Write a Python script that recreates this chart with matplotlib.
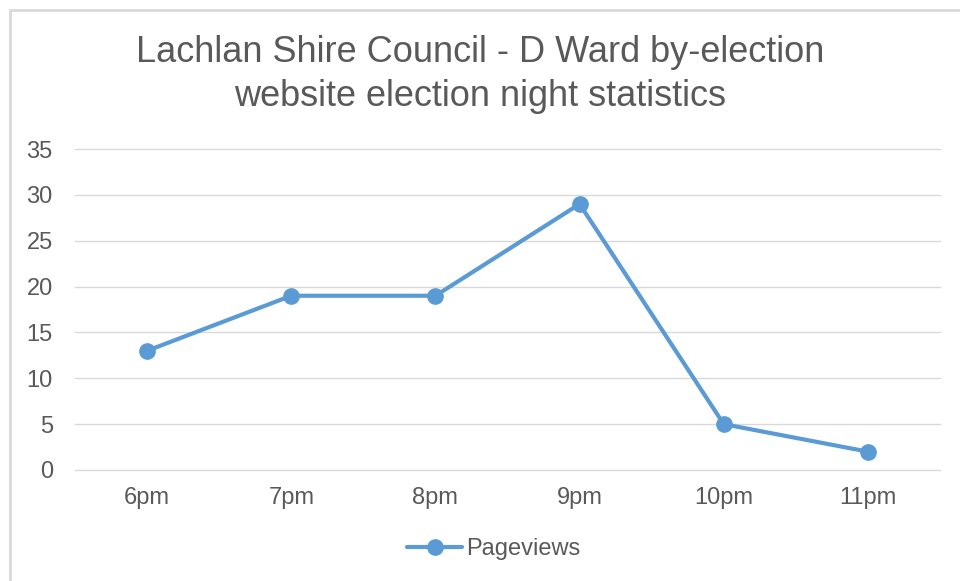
import numpy as np
import matplotlib
matplotlib.use('Agg')
import matplotlib.pyplot as plt
from matplotlib.patches import Rectangle

# --- data ---
hours = ["6pm", "7pm", "8pm", "9pm", "10pm", "11pm"]
pageviews = [13, 19, 19, 29, 5, 2]
yticks = [0, 5, 10, 15, 20, 25, 30, 35]

plt.rcParams['font.family'] = ['Liberation Sans', 'DejaVu Sans']
text_col = "#595959"
grid_col = "#D9D9D9"
line_col = "#5B9BD5"

fig = plt.figure(figsize=(9.6, 5.81), dpi=100)

# light chart border (only top and left visible in the picture)
fig.patches.append(Rectangle((10 / 960, -0.1), 1.2, (581 - 10) / 581 + 0.1,
                             transform=fig.transFigure, fill=False,
                             edgecolor="#D9D9D9", linewidth=2))

ax = fig.add_axes([75 / 960, 111 / 581, 865 / 960, 321 / 581])

x = np.arange(len(hours))
ax.plot(x, pageviews, color=line_col, linewidth=3, marker="o",
        markersize=11, label="Pageviews", solid_capstyle="round")

ax.set_xlim(-0.5, len(hours) - 0.5)
ax.set_ylim(0, 35)
ax.set_yticks(yticks)
ax.set_xticks(x)
ax.set_xticklabels(hours)
ax.yaxis.grid(True, color=grid_col, linewidth=1)
for gl in ax.get_ygridlines():
    gl.set_clip_on(False)
ax.set_axisbelow(True)
for s in ax.spines.values():
    s.set_visible(False)
ax.tick_params(axis="both", length=0, labelsize=17, colors=text_col)
ax.tick_params(axis="y", pad=16)
ax.tick_params(axis="x", pad=12)

fig.text(0.5, 1 - 52 / 581, "Lachlan Shire Council - D Ward by-election",
         ha="center", va="center", fontsize=26, color=text_col)
fig.text(0.5, 1 - 96 / 581, "website election night statistics",
         ha="center", va="center", fontsize=26, color=text_col)

leg = fig.legend(loc="center", bbox_to_anchor=(494 / 960, 1 - 549 / 581),
                 frameon=False, fontsize=17, handlelength=2.3,
                 handletextpad=0.2)
for t in leg.get_texts():
    t.set_color(text_col)

fig.savefig("out.png", dpi=100)
